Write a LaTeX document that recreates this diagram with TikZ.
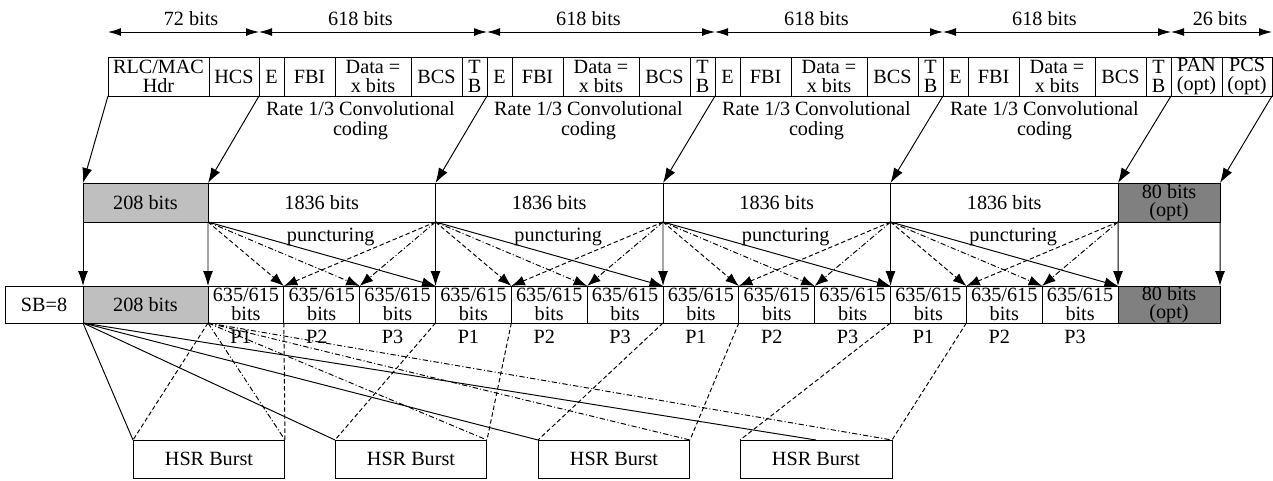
\documentclass[tikz,border=0pt]{standalone}
\usepackage{fontspec}
\setmainfont{Liberation Serif}
\usetikzlibrary{positioning, arrows.meta}

\begin{document}
\begin{tikzpicture}[
  x=0.02cm, y=-0.02cm,
  font=\fontsize{11.5}{10.5}\selectfont,
  line width=0.55pt,
  tcell/.style={draw, minimum width=#1*0.02cm, minimum height=0.78cm, inner sep=0pt, outer sep=0pt, align=center},
  tcell/.default=25,
  mcell/.style={draw, minimum width=#1*0.02cm, minimum height=0.78cm, inner sep=0pt, outer sep=0pt, align=center},
  mcell/.default=227.5,
  bcell/.style={draw, minimum width=#1*0.02cm, minimum height=0.74cm, inner sep=0pt, outer sep=0pt, align=center},
  bcell/.default=75.833,
  burst/.style={draw, minimum width=3.04cm, minimum height=0.76cm, inner sep=0pt, outer sep=0pt},
  dim/.style={{Latex[length=2.6mm,width=1.6mm]}-{Latex[length=2.6mm,width=1.6mm]}},
  arr/.style={-{Latex[length=3mm,width=2mm]}},
  parr/.style={-{Latex[length=2.7mm,width=2mm]}},
  dsh/.style={dash pattern=on 2.5pt off 1.5pt},
  dd/.style={dash pattern=on 3pt off 1.3pt on 0.6pt off 1.3pt}
]
\useasboundingbox (0,0) rectangle (1273,480);

\node[tcell=101, anchor=north west] (rlc) at (108,57) {RLC/MAC\\Hdr};
\node[tcell=50, right=0pt of rlc] (hcs) {HCS};
\foreach \k in {1,...,4}{
  \pgfmathsetmacro\xa{259+228*(\k-1)}
  \node[tcell=25, anchor=north west] (e\k) at (\xa,57) {E};
  \node[tcell=51, right=0pt of e\k] (fbi\k) {FBI};
  \node[tcell=76, right=0pt of fbi\k] (data\k) {Data =\\x bits};
  \node[tcell=51, right=0pt of data\k] (bcs\k) {BCS};
  \node[tcell=25, right=0pt of bcs\k] (tb\k) {T\\B};
  \node[align=center, font=\fontsize{11.5}{11.5}\selectfont] (rate\k) at (\xa+101.5,121) {Rate 1/3 Convolutional\\coding};
  \node (len\k) at (\xa+101.5,19) {618 bits};
  \draw[dim] ([yshift=0.5cm]e\k.north west) -- ([yshift=0.5cm]tb\k.north east);
}
\node[tcell=51, right=0pt of tb4] (pan) {PAN\\(opt)};
\node[tcell=50, right=0pt of pan] (pcs) {PCS\\(opt)};
\node (len0) at (191,19) {72 bits};
\node (len5) at (1220,19) {26 bits};
\draw[dim] ([yshift=0.5cm]rlc.north west) -- ([yshift=0.5cm]hcs.north east);
\draw[dim] ([yshift=0.5cm]pan.north west) -- ([yshift=0.5cm]pcs.north east);

\node[mcell=125, fill=gray!50, anchor=north west] (m0) at (83,183) {208 bits};
\foreach \k in {1,...,4}{
  \pgfmathtruncatemacro\p{\k-1}
  \node[mcell, right=0pt of m\p] (m\k) {1836 bits};
  \node (punc\k) at ([xshift=0.18cm,yshift=-0.3cm]m\k.south) {puncturing};
}
\node[mcell=102, fill=gray, right=0pt of m4] (m5) {80 bits\\(opt)};

\node[bcell=78, anchor=north west] (sb) at (5,286) {SB=8};
\node[bcell=125, fill=gray!50, right=0pt of sb] (b0) {208 bits};
\foreach \k in {1,...,4}
  \foreach \j in {1,2,3}{
    \pgfmathsetmacro\xb{208+227.5*(\k-1)+75.833*(\j-1)}
    \node[bcell, anchor=north west] (p\k\j) at (\xb,286) {635/615\\bits};
    \node (pl\k\j) at ([xshift=-0.1cm,yshift=-0.28cm]p\k\j.south) {P\j};
  }
\node[bcell=102, fill=gray, right=0pt of p43] (b5) {80 bits\\(opt)};

\foreach \k/\x in {1/133,2/335,3/538,4/740}
  \node[burst, anchor=north west] (hsr\k) at (\x,440) {HSR Burst};

\draw[arr] (rlc.south west) -- (m0.north west);
\draw[arr] (hcs.south east) -- (m1.north west);
\foreach \k in {1,...,4}{
  \pgfmathtruncatemacro\n{\k+1}
  \draw[arr] (tb\k.south east) -- (m\n.north west);
}
\draw[arr] (pcs.south east) -- (m5.north east);

\draw[arr] (m0.south west) -- (b0.north west);
\foreach \k in {1,...,4}{
  \draw[arr] (m\k.south west) -- (p\k1.north west);
  \draw[parr, dsh] (m\k.south west) -- (p\k2.north west);
  \draw[parr, dd] (m\k.south west) -- (p\k3.north west);
  \draw[parr] (m\k.south west) -- (p\k3.north east);
  \draw[parr, dsh] (m\k.south east) -- (p\k2.north west);
  \draw[parr, dd] (m\k.south east) -- (p\k3.north west);
}
\draw[arr] (m5.south west) -- (b5.north west);
\draw[arr] (m5.south east) -- (b5.north east);

\foreach \k in {1,2,3} \draw (b0.south west) -- (hsr\k.north west);
\draw (b0.south west) -- (hsr4.north);
\foreach \k in {1,...,4}{
  \draw[dd] (b0.south east) -- (hsr\k.north east);
  \draw[dsh] (p\k1.south west) -- (hsr\k.north west);
  \draw[dsh] (p\k1.south east) -- (hsr\k.north east);
}
\end{tikzpicture}
\end{document}
